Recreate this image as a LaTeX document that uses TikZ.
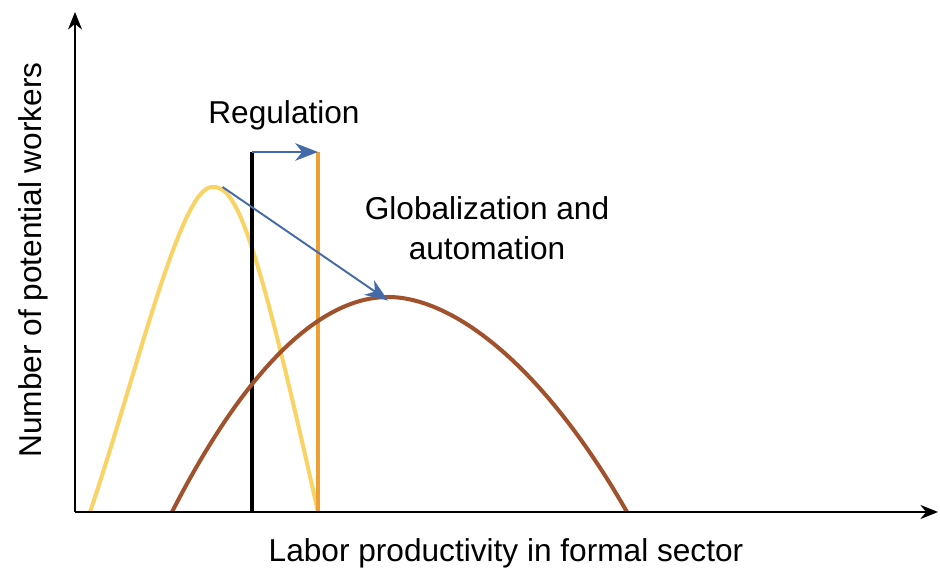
\documentclass[tikz,border=0pt]{standalone}
\usepackage{fontspec}
\setmainfont{Liberation Sans}
\usetikzlibrary{arrows.meta, positioning}

\definecolor{curveA}{RGB}{249,211,102}
\definecolor{curveB}{RGB}{160,82,45}
\definecolor{lineB}{RGB}{238,160,48}
\definecolor{moveblue}{RGB}{68,106,170}

\begin{document}
\begin{tikzpicture}[x=0.02cm, y=-0.02cm,
	axis/.style = {line width=1.1pt, -{Stealth[length=10pt, width=8pt]}},
	curve/.style = {line width=2.3pt},
	wall/.style = {line width=2.3pt},
	move/.style = {moveblue, line width=1.1pt, -{Stealth[length=13pt, width=10pt, inset=4pt]}},
	lab/.style = {font=\fontsize{18}{23}\selectfont, inner sep=0pt}]
		\useasboundingbox (0,0) rectangle (940,573);
		
		\coordinate (O) at (75,512);
		\coordinate (ytop) at (75,12);
		\coordinate (xend) at (938,512);
		
		\coordinate (Aa) at (90,512);
		\coordinate (Ap) at (212,187);
		\coordinate (Ab) at (318,512);
		\coordinate (Ba) at (172,512);
		\coordinate (Bp) at (388,297);
		\coordinate (Bb) at (627,512);
		
		\coordinate (R0) at (252,512);
		\coordinate (R0t) at (252,152);
		\coordinate (R1) at (318,512);
		\coordinate (R1t) at (318,152);
		
		\draw[curve, curveA] (Aa) .. controls (135,380) and (180,187) .. (Ap)
			.. controls (236,185) and (255,230) .. (Ab);
		\draw[wall, black] (R0) -- (R0t);
		\draw[wall, lineB] (R1) -- (R1t);
		\draw[curve, curveB] (Ba) .. controls (255,350) and (330,297) .. (Bp)
			.. controls (450,297) and (540,360) .. (Bb);
		
		\draw[move] (R0t) -- (R1t);
		\draw[move] ([xshift=6]Ap) -- ([yshift=-2]Bp);
		
		\draw[axis] (O) -- (ytop);
		\draw[axis] (O) -- (xend);
		
		\node[lab] (reg) at (284,115) {Regulation};
		\node[lab, align=center] (glob) at (487,228) {Globalization and\\automation};
		\node[lab, rotate=90] (ylab) at (33,260) {Number of potential workers};
		\node[lab] (xlab) at (506,553) {Labor productivity in formal sector};
		
\end{tikzpicture}
\end{document}
